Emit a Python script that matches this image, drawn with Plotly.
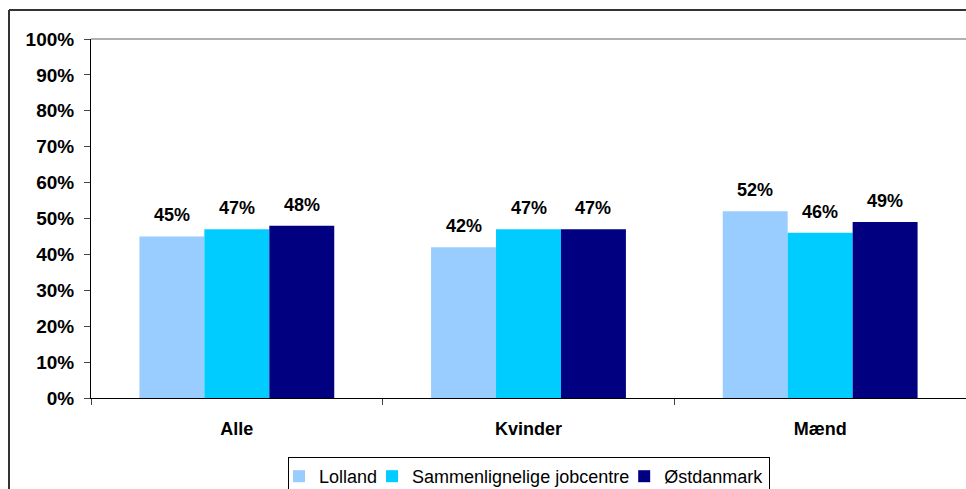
import plotly.graph_objects as go

categories = ["Alle", "Kvinder", "Mænd"]
series_names = ["Lolland", "Sammenlignelige jobcentre", "Østdanmark"]
lolland = [45, 42, 52]
sammen = [47, 47, 46]
ost = [48, 47, 49]
colors = ["#99CCFF", "#00CCFF", "#000080"]
ytick_vals = list(range(0, 101, 10))
ytick_text = [f"{v}%" for v in ytick_vals]

W, H = 966, 489
L, R, T, B = 91, 0, 39, 91
pw, ph = W - L - R, H - T - B
BARGAP = 0.332

def px_x(px):
    return (px - L) / pw

def px_y(py):
    return (H - B - py) / ph

font = "Arial, Liberation Sans, sans-serif"
fig = go.Figure()
series = [lolland, sammen, ost]
for name, vals, c in zip(series_names, series, colors):
    fig.add_trace(go.Bar(
        x=categories, y=vals, name=name, marker=dict(color=c, line=dict(width=0)),
        hoverinfo="x+y+name",
    ))

# data labels as annotations above each bar
cat_px = pw / len(categories)
bar_px = cat_px * (1 - BARGAP) / len(series)
for si, vals in enumerate(series):
    for ci, v in enumerate(vals):
        fig.add_annotation(x=categories[ci], y=v, text=f"<b>{v}%</b>", showarrow=False,
                           xanchor="center", yanchor="bottom",
                           xshift=(si - 1) * bar_px, yshift=9,
                           font=dict(family=font, size=18, color="black"))

fig.update_layout(
    width=W, height=H, margin=dict(l=L, r=R, t=T, b=B, autoexpand=False),
    paper_bgcolor="white", plot_bgcolor="white",
    barmode="group", bargap=BARGAP, bargroupgap=0,
    font=dict(family=font, size=18, color="black"),
    showlegend=True,
    legend=dict(orientation="h", x=px_x(529), xanchor="center", y=px_y(457), yanchor="top",
                bordercolor="black", borderwidth=1, bgcolor="white",
                font=dict(family=font, size=18, color="black"),
                itemwidth=30, tracegroupgap=0, indentation=-10),
)
fig.update_xaxes(showline=True, linecolor="black", linewidth=1, ticks="outside",
                 tickson="boundaries", ticklen=6, tickcolor="#444",
                 tickfont=dict(family=font, size=18, color="black"),
                 tickprefix="<b>", ticksuffix="</b>", showgrid=False,
                 ticklabelstandoff=14)
fig.update_yaxes(range=[0, 100], tickvals=ytick_vals, ticktext=[f"<b>{t}</b>" for t in ytick_text],
                 showline=True, linecolor="black", linewidth=1, ticks="outside", ticklen=6,
                 tickcolor="#444", showgrid=False, zeroline=False,
                 tickfont=dict(family=font, size=19, color="black"), ticklabelstandoff=6)

# top gridline at 100%
fig.add_shape(type="line", xref="paper", yref="paper", x0=0, x1=1.01, y0=1, y1=1,
              line=dict(color="#b0b0b0", width=2), layer="below")
# outer frame (left and top edges visible)
fig.add_shape(type="line", xref="paper", yref="paper", x0=px_x(9), x1=px_x(9),
              y0=px_y(495), y1=px_y(10), line=dict(color="#333333", width=2))
fig.add_shape(type="line", xref="paper", yref="paper", x0=px_x(9), x1=px_x(975),
              y0=px_y(10), y1=px_y(10), line=dict(color="#333333", width=2))

fig.write_html("out.html", config={"displayModeBar": False},
               post_script="document.body.style.margin='0';document.body.style.overflow='hidden';")
